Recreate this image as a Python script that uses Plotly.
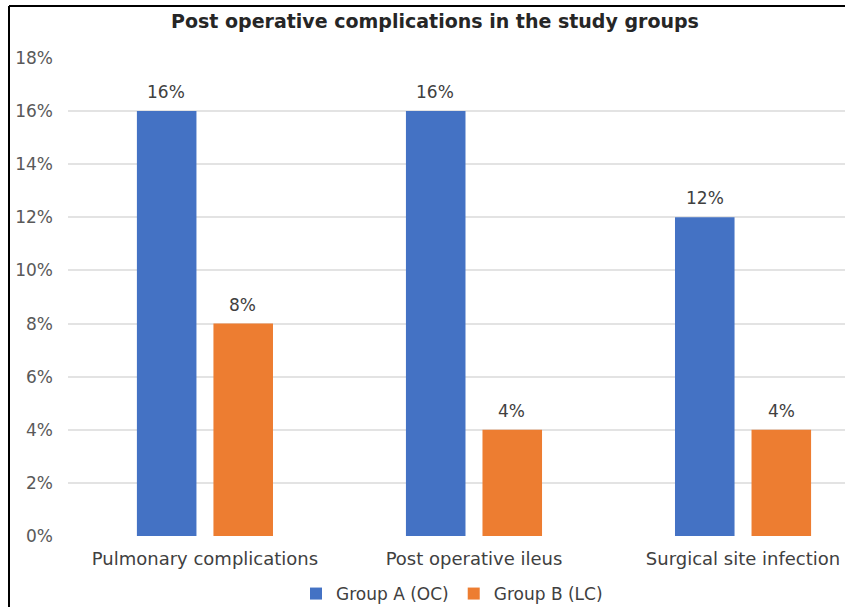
import plotly.graph_objects as go

# Chart data
categories = ["Pulmonary complications", "Post operative ileus", "Surgical site infection"]
group_a = [0.16, 0.16, 0.12]   # Group A (OC)
group_b = [0.08, 0.04, 0.04]   # Group B (LC)
series_names = ["Group A (OC)", "Group B (LC)"]
y_ticks = [0.00, 0.02, 0.04, 0.06, 0.08, 0.10, 0.12, 0.14, 0.16, 0.18]

BLUE = "#4472C4"
ORANGE = "#ED7D31"
FONT = "DejaVu Sans, Verdana, sans-serif"

W, H = 845, 607
L, R, T, B = 68, 0, 58, 71
plot_w = W - L - R
plot_h = H - T - B


def px_to_paper_x(px):
    return (px - L) / plot_w


def px_to_paper_y(py):
    return (H - B - py) / plot_h


fig = go.Figure()
series = [(series_names[0], group_a, BLUE, -38.5), (series_names[1], group_b, ORANGE, 38.0)]
for name, vals, color, _ in series:
    fig.add_trace(go.Bar(
        name=name,
        x=categories,
        y=vals,
        marker=dict(color=color, line=dict(width=0)),
        cliponaxis=False,
    ))

# Value labels above each bar
for name, vals, color, dx in series:
    for cat, v in zip(categories, vals):
        fig.add_annotation(
            x=cat, y=v, xref="x", yref="y",
            text=f"{v:.0%}",
            showarrow=False,
            xshift=dx, yshift=19,
            yanchor="middle",
            font=dict(family=FONT, size=17, color="#404040"),
        )

fig.update_layout(
    width=W,
    height=H,
    margin=dict(l=L, r=R, t=T, b=B, autoexpand=False),
    paper_bgcolor="white",
    plot_bgcolor="white",
    barmode="group",
    bargap=0.431,
    bargroupgap=0.222,
    font=dict(family=FONT, color="#595959"),
    title=dict(
        text="<b>Post operative complications in the study groups</b>",
        font=dict(family=FONT, size=19, color="#262626"),
        x=px_to_paper_x(435),
        xref="paper",
        xanchor="center",
        y=1 - 21 / H,
        yanchor="middle",
    ),
    xaxis=dict(
        range=[-0.509, 2.379],
        automargin=False,
        showgrid=False,
        showline=False,
        zeroline=False,
        ticks="",
        ticklabelstandoff=10,
        tickfont=dict(family=FONT, size=18, color="#404040"),
    ),
    yaxis=dict(
        range=[0, 0.18],
        automargin=False,
        tickvals=y_ticks,
        tickformat=".0%",
        showgrid=True,
        gridcolor="#E3E3E3",
        gridwidth=1.5,
        zeroline=False,
        showline=False,
        ticks="",
        ticklabelstandoff=14,
        tickfont=dict(family=FONT, size=17, color="#595959"),
    ),
    legend=dict(
        orientation="h",
        x=px_to_paper_x(452),
        xanchor="center",
        y=px_to_paper_y(612),
        yanchor="bottom",
        font=dict(family=FONT, size=17, color="#404040"),
        itemwidth=30,
        traceorder="normal",
        tracegroupgap=0,
    ),
    showlegend=True,
)

# Frame lines along the left and top edges
fig.add_shape(type="line", xref="paper", yref="paper",
              x0=px_to_paper_x(9), x1=px_to_paper_x(9),
              y0=px_to_paper_y(6), y1=px_to_paper_y(H + 10),
              line=dict(color="black", width=2))
fig.add_shape(type="line", xref="paper", yref="paper",
              x0=px_to_paper_x(9), x1=px_to_paper_x(W + 10),
              y0=px_to_paper_y(6), y1=px_to_paper_y(6),
              line=dict(color="black", width=2))

fig.write_html("out.html")
